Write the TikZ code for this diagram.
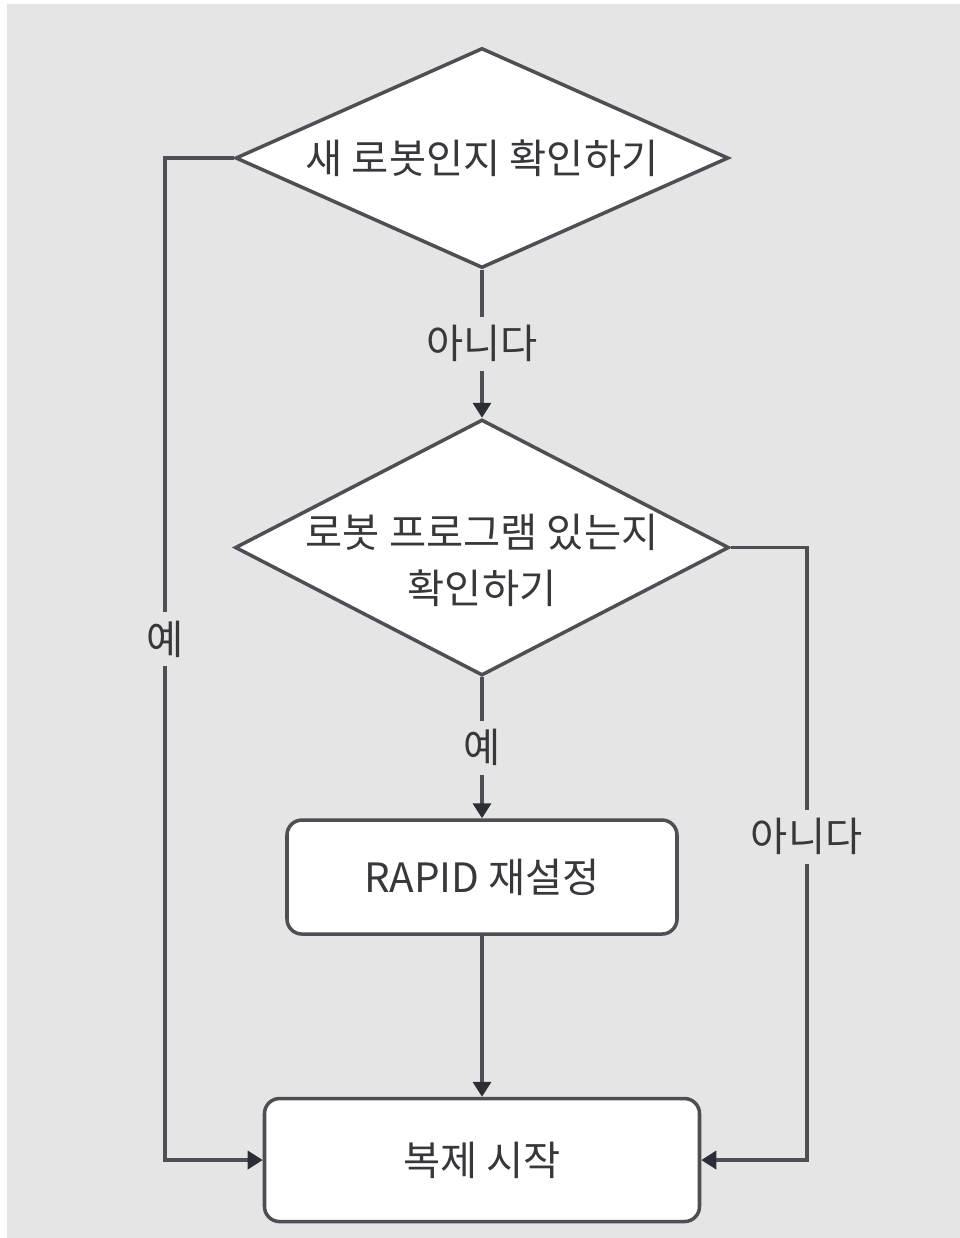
\documentclass[tikz,border=0pt]{standalone}
\usepackage{fontspec}
\setmainfont{Noto Sans CJK KR}
\usepackage{xcolor}
\usepackage{tikz}
\usetikzlibrary{arrows.meta,positioning,shapes.geometric}
\definecolor{bggray}{RGB}{229,229,229}
\definecolor{linegray}{RGB}{78,78,84}
\definecolor{textgray}{RGB}{56,56,60}
\definecolor{tipgray}{RGB}{44,46,54}

\begin{document}
\begin{tikzpicture}[
  node distance=3cm,
  font=\fontsize{23}{32}\selectfont,
  dia/.style={diamond,aspect=2.2,draw=linegray,line width=2pt,fill=white,text=textgray,inner sep=0pt,minimum width=9.86cm,minimum height=4.4cm},
  box/.style={draw=linegray,line width=2pt,fill=white,text=textgray,rounded corners=0.3cm,align=center,minimum width=7.8cm,minimum height=2.28cm},
  lbl/.style={fill=bggray,text=textgray,inner sep=5pt},
  arr/.style={-{Triangle[length=0.3cm,width=0.36cm,color=tipgray]},draw=linegray,line width=2pt}
]
% page and background
\useasboundingbox (0,0) rectangle (19.2,-24.76);
\fill[white] (0,0) rectangle (19.2,-24.76);
\fill[bggray] (0.14,-0.08) rectangle (19.2,-24.76);

\node[dia] (newbot) at (9.64,-3.16) {\makebox[0pt]{새 로봇인지 확인하기}};
\node[dia,aspect=1.93,minimum width=9.88cm,minimum height=5.12cm,below=2.96cm of newbot] (hasprog)
  {\makebox[0pt]{\raisebox{-0.55cm}[0pt][0pt]{\begin{tabular}{@{}c@{}}로봇 프로그램 있는지\\확인하기\end{tabular}}}};
\node[box,below=2.82cm of hasprog] (rapid) {RAPID 재설정};
\node[box,below=3.22cm of rapid,minimum width=8.7cm,minimum height=2.46cm] (start) {복제 시작};

\draw[arr] (newbot) -- node[lbl] {아니다} (hasprog);
\draw[arr] (hasprog) -- node[lbl] {예} (rapid);
\draw[arr] (rapid) -- (start);
\draw[arr] (newbot.west) -- ++(-1.38,0) |- node[lbl,pos=0.24] {예} (start.west);
\draw[arr] (hasprog.east) -- ++(1.52,0) |- node[lbl,pos=0.236] {아니다} (start.east);
\end{tikzpicture}
\end{document}
